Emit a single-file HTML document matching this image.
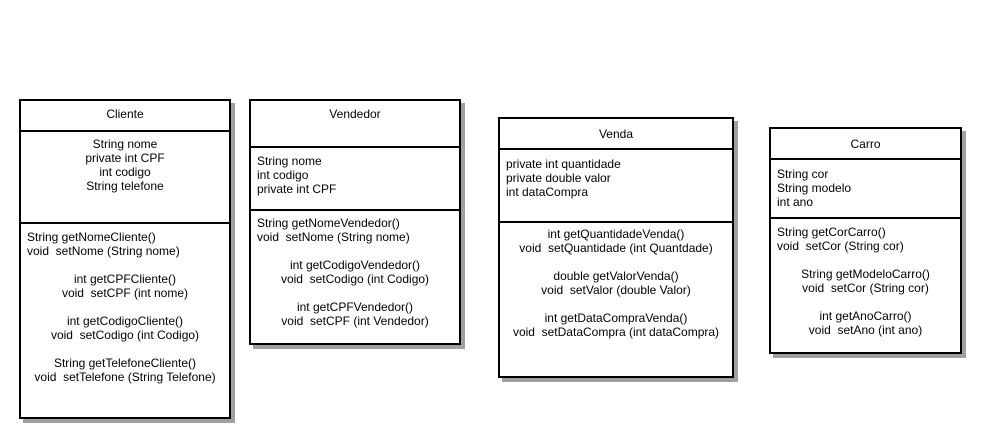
<!DOCTYPE html>
<html><head><meta charset="utf-8"><style>
body{margin:0;width:988px;height:446px;background:#fff;position:relative;overflow:hidden;font-family:"Liberation Sans",Arial,sans-serif;font-size:12px;color:#000}
.b{position:absolute;border:2px solid #000;box-sizing:border-box;background:#fff;box-shadow:4px 4px 0 #a0a0a0}
.d{position:absolute;left:0;right:0;height:2px;background:#000}
.t{position:absolute;left:0;right:0;line-height:14px;white-space:pre}
.c{text-align:center}
.l{padding-left:6px}
</style></head><body>

<div class="b" style="left:19px;top:99px;width:212px;height:320px">
<div class="t c" style="top:6px">Cliente</div>
<div class="d" style="top:29px"></div>
<div class="t c" style="top:36px">String nome
private int CPF
int codigo
String telefone</div>
<div class="d" style="top:121px"></div>
<div class="t l" style="top:129px">String getNomeCliente()
void  setNome (String nome)</div>
<div class="t c" style="top:171px">int getCPFCliente()
void  setCPF (int nome)

int getCodigoCliente()
void  setCodigo (int Codigo)

String getTelefoneCliente()
void  setTelefone (String Telefone)</div>
</div>

<div class="b" style="left:249px;top:99px;width:212px;height:246px">
<div class="t c" style="top:6px">Vendedor</div>
<div class="d" style="top:45px"></div>
<div class="t l" style="top:53px">String nome
int codigo
private int CPF</div>
<div class="d" style="top:108px"></div>
<div class="t l" style="top:115px">String getNomeVendedor()
void  setNome (String nome)</div>
<div class="t c" style="top:157px">int getCodigoVendedor()
void  setCodigo (int Codigo)

int getCPFVendedor()
void  setCPF (int Vendedor)</div>
</div>

<div class="b" style="left:498px;top:117px;width:236px;height:261px">
<div class="t c" style="top:8px">Venda</div>
<div class="d" style="top:29px"></div>
<div class="t l" style="top:38px">private int quantidade
private double valor
int dataCompra</div>
<div class="d" style="top:102px"></div>
<div class="t c" style="top:108px">int getQuantidadeVenda()
void  setQuantidade (int Quantdade)

double getValorVenda()
void  setValor (double Valor)

int getDataCompraVenda()
void  setDataCompra (int dataCompra)</div>
</div>

<div class="b" style="left:769px;top:127px;width:193px;height:227px">
<div class="t c" style="top:8px">Carro</div>
<div class="d" style="top:29px"></div>
<div class="t l" style="top:38px">String cor
String modelo
int ano</div>
<div class="d" style="top:88px"></div>
<div class="t l" style="top:96px">String getCorCarro()
void  setCor (String cor)</div>
<div class="t c" style="top:138px">String getModeloCarro()
void  setCor (String cor)

int getAnoCarro()
void  setAno (int ano)</div>
</div>

</body></html>
